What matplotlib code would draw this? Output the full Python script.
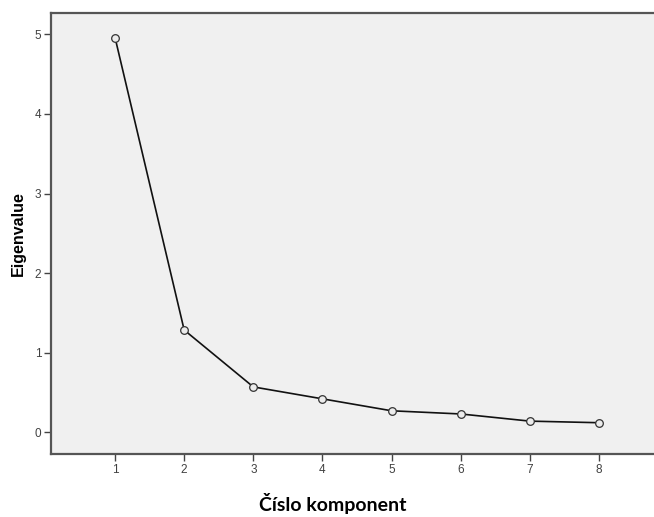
import numpy as np
import matplotlib.pyplot as plt

# scree plot data
components = [1, 2, 3, 4, 5, 6, 7, 8]
eigenvalues = [4.96, 1.285, 0.57, 0.42, 0.27, 0.23, 0.14, 0.12]
yticks = [0, 1, 2, 3, 4, 5]

plt.rcParams['font.family'] = ['Liberation Sans', 'DejaVu Sans']

fig = plt.figure(figsize=(6.54, 5.17), dpi=100)
ax = fig.add_axes([51 / 654, 63 / 517, 1 - 51 / 654, (454 - 13) / 517])
ax.set_facecolor('#f0f0f0')

ax.plot(components, eigenvalues, color='#111111', lw=1.2, marker='o',
        ms=5.5, mfc='#ececec', mec='#333333', mew=0.9)

ax.set_xlim(0.074, 8.795)
ax.set_ylim(-0.273, 5.268)
ax.set_xticks(components)
ax.set_yticks(yticks)
ax.tick_params(direction='out', length=5, width=1, color='#444444',
               labelsize=8.5, labelcolor='#404040', pad=2)

for side in ['left', 'bottom', 'top']:
    ax.spines[side].set_color('#555555')
    ax.spines[side].set_linewidth(1.6)
ax.spines['right'].set_visible(False)

ax.set_ylabel('Eigenvalue', fontsize=11.5, fontweight='bold', labelpad=6)
fig.text(333 / 654, 1 - 503 / 517, 'Číslo komponent', ha='center', va='center',
         fontsize=14, fontweight='bold', family=['Lato', 'DejaVu Sans'])

fig.savefig('out.png', dpi=100)
